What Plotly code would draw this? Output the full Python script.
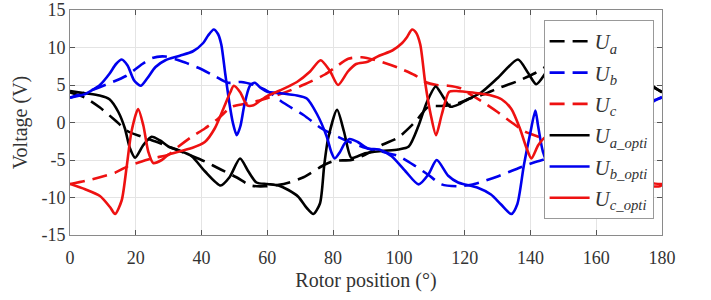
import plotly.graph_objects as go

# ---- data ----
ua_x = [0, 4.6, 9.1, 13.7, 17.7, 21.8, 25.8, 29.9, 35, 41, 46, 50.6, 55, 59.3, 65, 71, 77.5, 80.5, 85.6, 89.7,
        94.8, 99.8, 105, 109, 113, 117.6, 121, 126, 131, 136, 141.5, 146, 150, 155, 160, 165, 170, 175, 180]
ua_y = [4.0, 3.3, 2.0, 0.3, -1.2, -1.9, -2.5, -3.2, -4.1, -5.2, -6.3, -7.3, -8.4, -8.5, -8.2, -7.3, -5.6, -5.1, -5.0, -4.3,
        -3.0, -2.0, 0.1, 2.1, 2.2, 2.5, 3.1, 3.8, 4.7, 5.5, 6.6, 7.8, 8.7, 8.2, 7.2, 6.0, 5.3, 5.1, 4.1]

ub_x = [0, 9, 17, 22, 25, 29, 35, 39, 44, 48, 52, 56, 60, 65, 71, 76.5, 80.5, 85, 90, 95, 100, 105, 109, 113, 118,
        122, 126, 130, 134, 138, 142, 146, 150, 153, 157, 161, 165, 169, 173, 177, 180]
ub_y = [3.3, 4.7, 6.2, 7.8, 8.6, 8.8, 8.0, 7.3, 6.2, 5.3, 5.4, 5.0, 4.2, 2.6, 1.0, -0.8, -1.7, -2.6, -3.4, -3.9, -4.5,
        -5.8, -7.0, -8.25, -8.5, -8.3, -7.8, -7.2, -6.5, -5.8, -5.2, -4.7, -4.3, -3.2, -1.9, -0.8, 0.5, 2.1, 2.5, 2.9, 3.3]

uc_x = [0, 4.6, 9.1, 13.7, 17.7, 21.8, 25.8, 29.9, 33, 37, 41, 45, 49.2, 53.2, 57.2, 60.3, 65.3, 71.4, 77.5, 80.5,
        84.6, 88.7, 93.8, 99.8, 104.9, 108, 111.5, 115, 118.5, 120, 126, 130, 134, 138.3, 142.4, 146, 150, 155, 161,
        166, 170.6, 175, 179.3, 180]
uc_y = [-8.2, -7.8, -7.3, -6.7, -5.8, -5.2, -4.7, -4.3, -3.2, -1.9, -0.8, 0.5, 2.1, 2.5, 2.9, 3.3, 4.0, 5.1, 6.4, 7.3,
        8.5, 8.7, 8.2, 7.3, 6.3, 5.4, 5.0, 4.9, 4.6, 4.2, 2.6, 1.4, 0.1, -1.2, -1.9, -2.5, -3.2, -4.1, -5.2,
        -6.3, -7.3, -8.4, -8.5, -8.3]

uao_x = [0, 4.6, 9, 12, 14.7, 16.7, 18.2, 19.8, 22.3, 24.8, 27.4, 29.9, 33, 37, 41, 45.8, 48.5, 51.7, 54.2, 56.7,
         60, 63.4, 66.4, 69.4, 72, 74, 76, 77.3, 78.5, 81.2, 83.3, 85.5, 87.5, 89.7, 94.8, 99.8, 103, 106, 108.5,
         111.2, 113.2, 115.6, 118.6, 121, 125, 130.2, 136.2, 139.3, 141.8, 145.8, 148.9, 155, 160, 162, 164, 166,
         167.5, 168.5, 170.7, 172.5, 174.7, 176.5, 178, 180]
uao_y = [4.2, 3.9, 3.6, 3.1, 1.4, -0.8, -3.4, -4.7, -3.0, -1.9, -2.4, -3.2, -3.7, -4.5, -6.5, -8.4, -7.3, -4.8, -6.5, -8.0,
         -8.2, -8.4, -9.0, -9.9, -11.4, -12.2, -10.8, -5.7, -2.1, 1.7, -1.2, -4.7, -4.5, -4.1, -3.8, -3.6, -3.2, -0.4, 2.7,
         4.8, 3.6, 2.1, 2.5, 3.1, 4.0, 6.0, 8.4, 6.6, 5.1, 7.3, 8.4, 8.8, 10.2, 11.5, 12.5, 10.2,
         5.3, 1.4, -1.7, 2.3, 4.9, 5.1, 4.6, 4.0]

ubo_x = [0, 4.6, 7, 9.1, 12, 14, 15.7, 17.5, 19.5, 21.5, 23.5, 26, 29, 33.4, 37.4, 40.5, 42, 43.7, 45, 46, 47.2,
         48.5, 49.5, 50.7, 51.8, 53, 54.7, 56.2, 58, 60, 64, 69, 72, 75, 78, 79.5, 80.5, 82, 83.5, 85, 87.5, 90.7,
         94, 97.8, 102, 106, 109, 111.5, 115, 118, 120, 124, 128, 131, 134.2, 136, 138, 140, 141.5, 142.3, 143.8,
         145.3, 147.9, 149.9, 153, 157, 161, 164, 166.6, 168.7, 169.8, 171.8, 173.8, 175.8, 177.8, 180]
ubo_y = [3.3, 3.8, 4.4, 5.0, 6.5, 7.8, 8.4, 7.6, 5.6, 4.9, 5.9, 7.4, 8.3, 8.9, 9.5, 10.6, 11.6, 12.4, 11.8, 10.4, 6.5,
         2.5, 0.0, -1.7, -0.5, 2.3, 4.9, 5.3, 4.6, 4.1, 3.9, 3.6, 3.2, 1.2, -1.8, -4.0, -4.8, -4.0, -2.8, -2.2, -2.6, -3.5,
         -3.6, -4.5, -6.5, -8.25, -6.9, -5.0, -7.1, -8.0, -8.25, -8.7, -9.6, -10.9, -12.2, -10.9, -5.7, -1.3, 1.6, -0.4, -3.9,
         -5.4, -5.0, -4.1, -3.9, -3.4, -2.6, -0.8, 1.8, 4.0, 4.9, 4.0, 2.3, 2.3, 2.9, 3.4]

uco_x = [0, 4.6, 9.1, 12.2, 13.7, 15.7, 17.2, 18.7, 20.7, 22.3, 23.8, 25.3, 27.9, 29.9, 33, 37, 41, 44, 46.6, 48.7,
         49.8, 51.8, 53.8, 55.8, 57.8, 60.3, 64, 69, 73, 76.2, 79, 81.5, 84.5, 87, 90.5, 94, 98, 101, 102.5, 104,
         105.2, 106.5, 108, 109.7, 111.3, 113, 115.3, 117.5, 120, 124, 128.1, 131.2, 134.2, 136.8, 138.8, 140.3,
         142.4, 144.8, 147.4, 149.9, 153, 157, 161, 165.8, 168.5, 171.7, 174.2, 176.7, 180]
uco_y = [-8.2, -8.9, -9.8, -11.3, -12.2, -10.4, -6.0, -1.2, 1.8, -0.4, -3.9, -5.4, -5.0, -4.3, -3.9, -3.4, -2.6, -0.8, 1.8, 4.0,
         4.9, 4.0, 2.3, 2.3, 2.9, 3.6, 4.3, 5.4, 6.8, 8.3, 6.9, 5.0, 6.8, 7.8, 8.1, 8.9, 9.6, 10.6, 11.4, 12.4,
         12.0, 10.4, 5.3, 1.0, -1.7, 1.0, 4.1, 4.2, 4.1, 3.9, 3.6, 3.1, 1.8, -0.8, -3.4, -4.8,
         -3.0, -1.9, -2.4, -3.2, -3.7, -4.5, -6.5, -8.4, -7.3, -4.8, -6.5, -8.0, -8.2]

x_ticks = [0, 20, 40, 60, 80, 100, 120, 140, 160, 180]
y_ticks = [-15, -10, -5, 0, 5, 10, 15]
y_ticktext = ["-15", "-10", "-5", "0", "5", "10", "15"]

BLACK = "#000000"
BLUE = "#0000ee"
RED = "#ee1111"
FONT = "Liberation Serif"

series = [
    (ua_x, ua_y, BLACK, "15px,8px", "<i>U</i><sub><i>a</i></sub>"),
    (ub_x, ub_y, BLUE, "15px,8px", "<i>U</i><sub><i>b</i></sub>"),
    (uc_x, uc_y, RED, "15px,8px", "<i>U</i><sub><i>c</i></sub>"),
    (uao_x, uao_y, BLACK, "solid", "<i>U</i><sub><i>a_opti</i></sub>"),
    (ubo_x, ubo_y, BLUE, "solid", "<i>U</i><sub><i>b_opti</i></sub>"),
    (uco_x, uco_y, RED, "solid", "<i>U</i><sub><i>c_opti</i></sub>"),
]

fig = go.Figure()
for i, (xs, ys, col, dash, name) in enumerate(series):
    fig.add_trace(go.Scatter(x=xs, y=ys, mode="lines", name=name, legendgroup=f"g{i}",
                             line=dict(color=col, width=2.6, dash=dash, shape="spline", smoothing=0.7)))

axis_common = dict(showline=True, linecolor="#8a8a8a", linewidth=1, mirror="ticks",
                   ticks="inside", ticklen=5, tickcolor="#555555",
                   showgrid=True, gridcolor="#e4e4e4", gridwidth=1, zeroline=False,
                   automargin=False, ticklabeloverflow="allow",
                   tickfont=dict(family=FONT, size=18, color="#333333"))

fig.update_xaxes(range=[0, 180], tickvals=x_ticks, ticklabelstandoff=6,
                 title=dict(text="Rotor position (°)", font=dict(family=FONT, size=20, color="#333333"), standoff=6),
                 **axis_common)
fig.update_yaxes(range=[-15, 15], tickvals=y_ticks, ticktext=y_ticktext,
                 title=dict(text="Voltage (V)", font=dict(family=FONT, size=20, color="#333333"), standoff=8),
                 **axis_common)

fig.update_layout(
    width=711, height=300,
    margin=dict(l=70, r=49, t=10, b=65, autoexpand=False),
    paper_bgcolor="white", plot_bgcolor="white",
    font=dict(family=FONT, color="#333333"),
    showlegend=True,
    legend=dict(x=0.80, y=0.955, xanchor="left", yanchor="top",
                bgcolor="white", bordercolor="#999999", borderwidth=1,
                font=dict(family=FONT, size=21, color="#333333"),
                tracegroupgap=1, itemwidth=40),
)

fig.write_html("out.html", config={"displayModeBar": False},
               post_script="document.body.style.margin='0px';")
